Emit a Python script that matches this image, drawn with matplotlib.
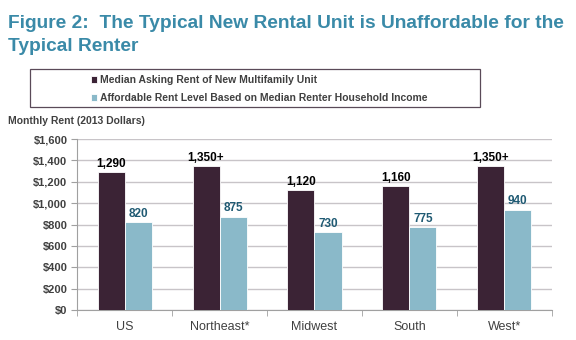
import numpy as np
import matplotlib.pyplot as plt
from matplotlib.patches import Rectangle

plt.rcParams['font.family'] = ['Liberation Sans', 'DejaVu Sans']

regions = ['US', 'Northeast*', 'Midwest', 'South', 'West*']
asking_rent = [1290, 1350, 1120, 1160, 1350]
affordable_rent = [820, 875, 730, 775, 940]
asking_labels = ['1,290', '1,350+', '1,120', '1,160', '1,350+']
affordable_labels = ['820', '875', '730', '775', '940']
yticks = [0, 200, 400, 600, 800, 1000, 1200, 1400, 1600]

dark = '#3b2335'
light = '#8ab9c9'
teal = '#3a8aa8'
gray = '#404040'

fig = plt.figure(figsize=(5.76, 3.4), dpi=100)
ax = fig.add_axes([0.134, 0.088, 0.824, 0.503])

x = np.arange(len(regions))
w = 0.285
b1 = ax.bar(x - w/2, asking_rent, w, color=dark, edgecolor='white', linewidth=0.6, zorder=3,
            label='Median Asking Rent of New Multifamily Unit')
b2 = ax.bar(x + w/2, affordable_rent, w, color=light, edgecolor='white', linewidth=0.6, zorder=3,
            label='Affordable Rent Level Based on Median Renter Household Income')

for xi, v, t in zip(x, asking_rent, asking_labels):
    ax.text(xi - w/2, v + 20, t, ha='center', va='bottom', fontsize=8.5, fontweight='bold', color='black')
for xi, v, t in zip(x, affordable_rent, affordable_labels):
    ax.text(xi + w/2, v + 20, t, ha='center', va='bottom', fontsize=8.5, fontweight='bold', color='#1f5a73')

ax.set_ylim(0, 1600)
ax.set_xlim(-0.5, len(regions) - 0.5)
ax.set_yticks(yticks)
ax.set_yticklabels(['$' + format(v, ',') for v in yticks], fontsize=8, fontweight='bold', color=gray)
ax.set_xticks(x)
ax.set_xticklabels(regions, fontsize=9, color=gray)
ax.tick_params(axis='x', length=0, pad=8)
ax.set_xticks(np.arange(-0.5, len(regions)), minor=True)
ax.tick_params(axis='x', which='minor', length=4, color='#a0a0a0')
ax.tick_params(axis='y', length=4, color='#a0a0a0', pad=3)
ax.yaxis.grid(True, color='#c8c4c8', linewidth=1, zorder=0)
for s in ['top', 'right']:
    ax.spines[s].set_visible(False)
ax.spines['left'].set_color('#a0a0a0')
ax.spines['bottom'].set_color('#a0a0a0')

fig.text(0.014, 0.955, 'Figure 2:  The Typical New Rental Unit is Unaffordable for the\nTypical Renter',
         fontsize=13.75, fontweight='bold', color=teal, va='top', ha='left', linespacing=1.45)
fig.text(0.014, 0.645, 'Monthly Rent (2013 Dollars)', fontsize=7.5, fontweight='bold', color=gray,
         va='center', ha='left')

# legend frame, wider than the entries
fig.add_artist(Rectangle((30/576, 1 - 107/340), 450/576, 38/340, transform=fig.transFigure,
                         fill=False, edgecolor='#5a4a58', linewidth=0.9))
leg = fig.legend(handles=[b1, b2], loc='center left', bbox_to_anchor=(0.145, 1 - 89/340), ncol=1,
                 frameon=False, handlelength=0.6, handleheight=0.6,
                 handletextpad=0.3, borderpad=0.2, labelspacing=0.75, prop={'weight': 'bold', 'size': 7.5})
for t in leg.get_texts():
    t.set_color(gray)

plt.savefig('out.png', dpi=100)
